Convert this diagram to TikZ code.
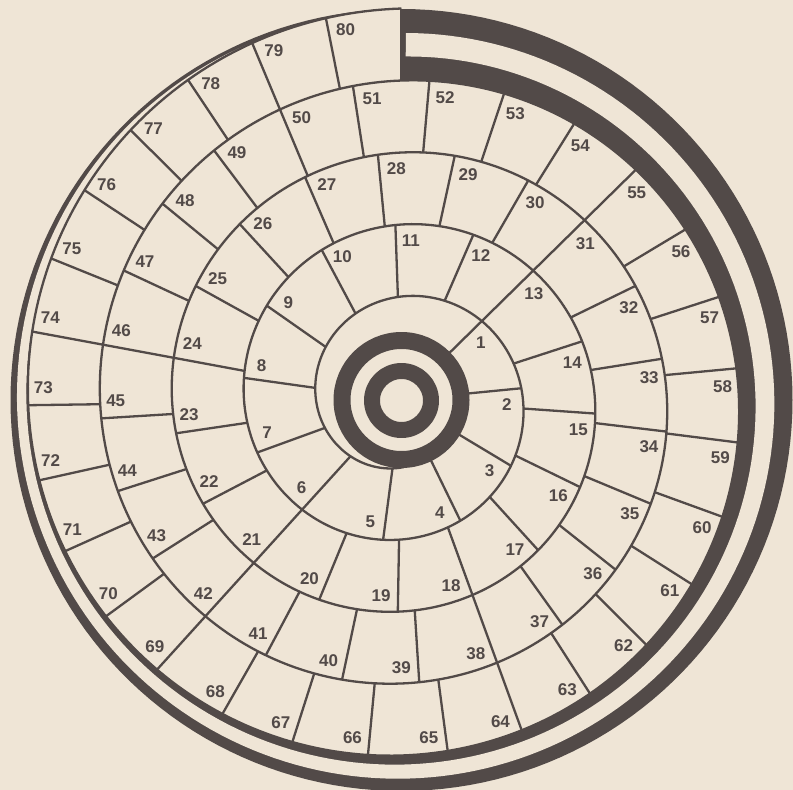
\documentclass[tikz,border=0pt]{standalone}
\usepackage{fontspec}
\setmainfont{Liberation Sans}
\definecolor{ink}{RGB}{82,74,72}
\definecolor{paper}{RGB}{239,229,214}
\begin{document}
\begin{tikzpicture}[x=1pt,y=-1pt,line join=round]
\def\cx{401.5}\def\cy{400}
\tikzset{div/.style={draw=ink,line width=2.3pt},
         lab/.style={text=ink,inner sep=0pt,font=\bfseries\fontsize{17}{17}\selectfont}}
\fill[paper] (0,0) rectangle (793,790);
\useasboundingbox (0,0) rectangle (793,790);
% outer black region between last spiral turn and outer circle
\fill[ink] plot[domain=0:360,samples=181,variable=\t] ({\cx+391*sin(\t)},{\cy-391*cos(\t)})
  -- plot[domain=360:0,samples=181,variable=\t] ({\cx+(319.5+0.2*\t)*sin(\t)},{\cy-(319.5+0.2*\t)*cos(\t)}) -- cycle;
% white channel inside the black region
\fill[paper] plot[domain=0.7:342,samples=200,variable=\t]
   ({\cx+(319.5+0.2*\t+max(24*(1-\t/290),0))*sin(\t)},{\cy-(319.5+0.2*\t+max(24*(1-\t/290),0))*cos(\t)})
  -- plot[domain=342:0.7,samples=200,variable=\t]
   ({\cx+(391-max(24-0.065*\t,3.5))*sin(\t)},{\cy-(391-max(24-0.065*\t,3.5))*cos(\t)}) -- cycle;
% the spiral
\draw[div] plot[domain=178:1800,samples=1200,variable=\t]
   ({\cx+(31.5+0.2*\t)*sin(\t)},{\cy-(31.5+0.2*\t)*cos(\t)});
% end bar
\draw[div] ({\cx},{\cy-319.5}) -- ({\cx},{\cy-391});
% bullseye
\draw[ink,line width=17pt] (\cx,\cy) circle[radius=59.5];
\draw[ink,line width=16pt] (\cx,400.5) circle[radius=29.5];
% turn 1
\foreach \a [count=\n] in {45.5,84.4,121,154,187.5,222.2,250,278,305,332,358,383.5}{
  \pgfmathsetmacro\myri{max(31.5+0.2*\a,62)}
  \pgfmathsetmacro\myro{31.5+0.2*(\a+360)}
  \draw[div] ({\cx+\myri*sin(\a)},{\cy-\myri*cos(\a)}) -- ({\cx+\myro*sin(\a)},{\cy-\myro*cos(\a)});
  \pgfmathsetmacro\myrl{\myro-15}
  \pgfmathsetmacro\myal{\a+15/\myrl*57.2958}
  \node[lab] (c\n) at ({\cx+\myrl*sin(\myal)},{\cy-\myrl*cos(\myal)}) {\n};
}
% turn 2
\foreach \a [count=\n from 13] in {45.5,72,94,116,137.7,160,181,202.4,222.2,242.4,261.6,280.5,299,317.4,336.6,354.5,372.3,390}{
  \pgfmathsetmacro\myri{31.5+0.2*(\a+360)}
  \pgfmathsetmacro\myro{31.5+0.2*(\a+720)}
  \draw[div] ({\cx+\myri*sin(\a)},{\cy-\myri*cos(\a)}) -- ({\cx+\myro*sin(\a)},{\cy-\myro*cos(\a)});
  \pgfmathsetmacro\myrl{\myro-15}
  \pgfmathsetmacro\myal{\a+17/\myrl*57.2958}
  \node[lab] (c\n) at ({\cx+\myrl*sin(\myal)},{\cy-\myrl*cos(\myal)}) {\n};
}
% turn 3
\foreach \a [count=\n from 31] in {45.5,64,81,96.8,112.6,128.4,144.4,160,176.4,192,208,222.2,237.5,252.2,266.5,280.5,295,309.4,323.1,337.3,351.2,365,378.5,392}{
  \pgfmathsetmacro\myri{31.5+0.2*(\a+720)}
  \pgfmathsetmacro\myro{31.5+0.2*(\a+1080)}
  \draw[div] ({\cx+\myri*sin(\a)},{\cy-\myri*cos(\a)}) -- ({\cx+\myro*sin(\a)},{\cy-\myro*cos(\a)});
  \pgfmathsetmacro\myrl{\myro-15}
  \pgfmathsetmacro\myal{\a+17/\myrl*57.2958}
  \node[lab] (c\n) at ({\cx+\myrl*sin(\myal)},{\cy-\myrl*cos(\myal)}) {\n};
}
% turn 4
\foreach \a [count=\n from 55] in {45.5,59,72,84.6,97.2,110,122.4,135,147.3,160,172.5,185.4,197.7,209.7,222.2,233.8,245.8,257.5,269.2,280.5,292,303.5,314.9,326.3,337.3,348.8}{
  \pgfmathsetmacro\myri{31.5+0.2*(\a+1080)}
  \pgfmathsetmacro\myro{31.5+0.2*(\a+1440)}
  \draw[div] ({\cx+\myri*sin(\a)},{\cy-\myri*cos(\a)}) -- ({\cx+\myro*sin(\a)},{\cy-\myro*cos(\a)});
  \pgfmathsetmacro\myrl{\myro-15}
  \pgfmathsetmacro\myal{\a+17/\myrl*57.2958}
  \node[lab] (c\n) at ({\cx+\myrl*sin(\myal)},{\cy-\myrl*cos(\myal)}) {\n};
}
\end{tikzpicture}
\end{document}
